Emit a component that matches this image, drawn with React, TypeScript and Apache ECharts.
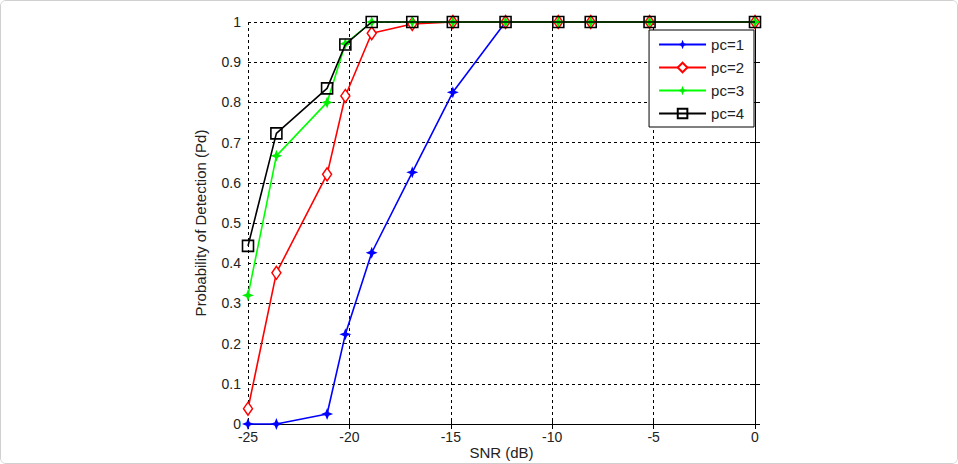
import React, { useEffect, useRef } from "react";
import * as echarts from "echarts";

const snr = [-25, -23.6, -21.1, -20.2, -18.9, -16.9, -14.9, -12.3, -9.7, -8.1, -5.2, 0];
const pc1 = [0, 0, 0.025, 0.223, 0.426, 0.626, 0.825, 1, 1, 1, 1, 1];
const pc2 = [0.038, 0.376, 0.621, 0.816, 0.972, 0.995, 1, 1, 1, 1, 1, 1];
const pc3 = [0.32, 0.667, 0.8, 0.946, 1, 1, 1, 1, 1, 1, 1, 1];
const pc4 = [0.443, 0.723, 0.835, 0.944, 1, 1, 1, 1, 1, 1, 1, 1];
const seriesNames = ["pc=1", "pc=2", "pc=3", "pc=4"];
const xTicks = [-25, -20, -15, -10, -5, 0];

const STAR = "path://M0,-10 L2.8,-2.8 L10,0 L2.8,2.8 L0,10 L-2.8,2.8 L-10,0 L-2.8,-2.8 Z";
const FONT = "Liberation Sans";

export default function App() {
  const ref = useRef<HTMLDivElement>(null);
  useEffect(() => {
    const chart = echarts.init(ref.current!, null, { renderer: "svg" });
    const pts = (ys: number[]) => snr.map((x, i) => [x, ys[i]]);
    const axisLine = { show: true, lineStyle: { color: "#000", width: 1 } };
    const tick = { show: true, inside: true, length: 5, lineStyle: { color: "#000" } };
    const split = { show: true, lineStyle: { color: "#000", type: [3, 3], width: 1 } };
    chart.setOption({
      animation: false,
      backgroundColor: "#fff",
      textStyle: { fontFamily: FONT },
      grid: { left: 247, right: 202, top: 21, bottom: 39, containLabel: false, outerBoundsMode: "none" },
      legend: {
        orient: "vertical",
        right: 203,
        top: 29,
        backgroundColor: "#fff",
        borderColor: "#000",
        borderWidth: 1,
        borderRadius: 0,
        padding: [7, 10, 6, 9],
        itemWidth: 47,
        itemHeight: 12,
        itemGap: 8,
        textStyle: { fontFamily: FONT, fontSize: 15, color: "#222" },
        data: seriesNames,
      },
      xAxis: [
        {
          type: "value",
          min: -25,
          max: 0,
          interval: 5,
          name: "SNR (dB)",
          nameLocation: "middle",
          nameGap: 21,
          nameMoveOverlap: false,
          nameTextStyle: { fontFamily: FONT, fontSize: 15, color: "#222", lineHeight: 15 },
          axisLine,
          axisTick: tick,
          splitLine: split,
          axisLabel: { fontFamily: FONT, fontSize: 14, color: "#222", margin: 6, formatter: (v: number) => (xTicks.includes(v) ? String(v) : "") },
        },
        {
          type: "value",
          position: "top",
          min: -25,
          max: 0,
          interval: 5,
          axisLine,
          axisTick: tick,
          splitLine: { show: false },
          axisLabel: { show: false },
        },
      ],
      yAxis: [
        {
          type: "value",
          min: 0,
          max: 1,
          interval: 0.1,
          name: "Probability of Detection (Pd)",
          nameLocation: "middle",
          nameGap: 40,
          nameMoveOverlap: false,
          nameTextStyle: { fontFamily: FONT, fontSize: 15, color: "#222" },
          axisLine,
          axisTick: tick,
          splitLine: split,
          axisLabel: {
            fontFamily: FONT,
            fontSize: 14,
            color: "#222",
            margin: 7,
            formatter: (v: number) => String(Math.round(v * 10) / 10),
          },
        },
        {
          type: "value",
          position: "right",
          min: 0,
          max: 1,
          interval: 0.1,
          axisLine,
          axisTick: tick,
          splitLine: { show: false },
          axisLabel: { show: false },
        },
      ],
      series: [
        {
          name: "pc=1",
          type: "line",
          data: pts(pc1),
          clip: false,
          symbol: STAR,
          symbolSize: 12,
          lineStyle: { color: "#0000ff", width: 1.6 },
          itemStyle: { color: "#0000ff" },
          z: 2,
        },
        {
          name: "pc=2",
          type: "line",
          data: pts(pc2),
          clip: false,
          symbol: "diamond",
          symbolSize: [9, 13],
          lineStyle: { color: "#ff0000", width: 1.6 },
          itemStyle: { color: "#fff", borderColor: "#ff0000", borderWidth: 1.5 },
          z: 3,
        },
        {
          name: "pc=3",
          type: "line",
          data: pts(pc3),
          clip: false,
          symbol: STAR,
          symbolSize: 12,
          lineStyle: { color: "#00ff00", width: 1.6 },
          itemStyle: { color: "#00ee00" },
          z: 4,
        },
        {
          name: "pc=4",
          type: "line",
          data: pts(pc4),
          clip: false,
          symbol: "rect",
          symbolSize: 11,
          lineStyle: { color: "#000", width: 1.6 },
          itemStyle: { color: "rgba(0,0,0,0)", borderColor: "#000", borderWidth: 1.6 },
          z: 5,
        },
      ],
    });
    return () => chart.dispose();
  }, []);
  return (
    <div
      style={{
        position: "fixed",
        left: 0,
        top: 0,
        width: 958,
        height: 464,
        boxSizing: "border-box",
        border: "1px solid #d0d0d0",
        borderRadius: 6,
        overflow: "hidden",
        background: "#fff",
      }}
    >
      <div ref={ref} style={{ width: 956, height: 462 }} />
    </div>
  );
}
